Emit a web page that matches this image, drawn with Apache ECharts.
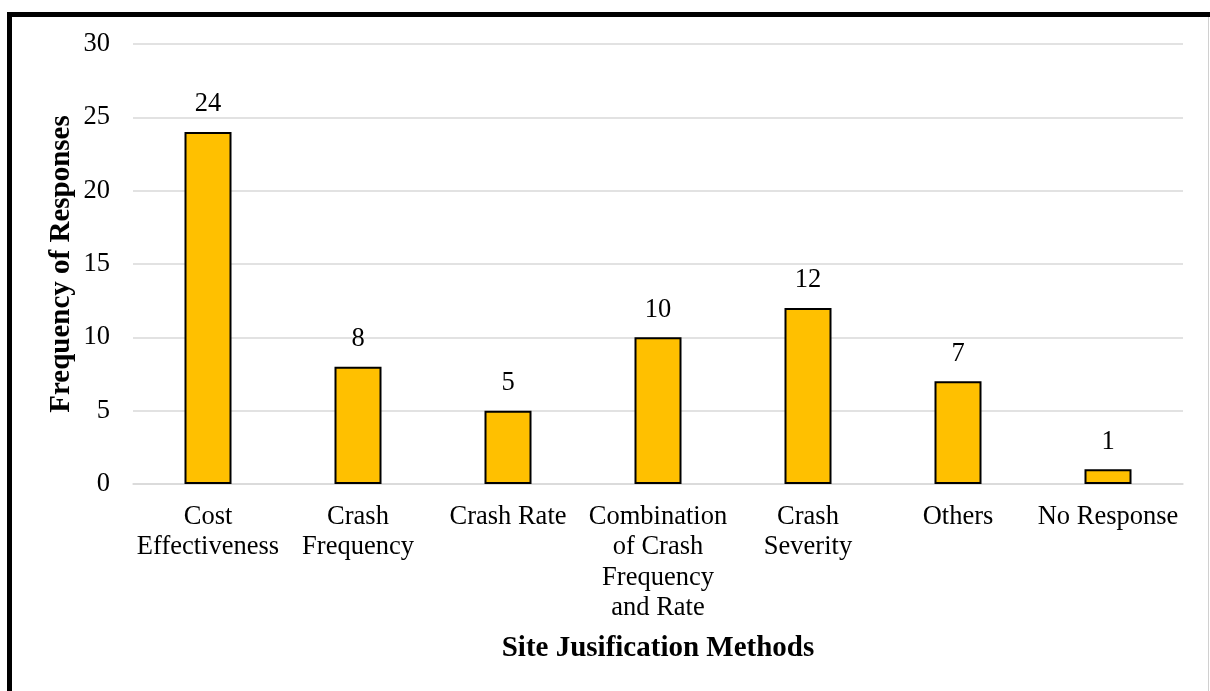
<!DOCTYPE html>
<html>
<head>
<meta charset="utf-8">
<script src="https://cdn.jsdelivr.net/npm/echarts@6/dist/echarts.min.js"></script>
<style>
html,body{margin:0;padding:0;background:#fff;}
#c{width:1210px;height:691px;}
</style>
</head>
<body>
<div id="c"></div>
<script>
const categories = ["Cost\nEffectiveness", "Crash\nFrequency", "Crash Rate", "Combination\nof Crash\nFrequency\nand Rate", "Crash\nSeverity", "Others", "No Response"];
const values = [24, 8, 5, 10, 12, 7, 1];
const yTicks = [0, 5, 10, 15, 20, 25, 30];

const chart = echarts.init(document.getElementById('c'), null, {renderer: 'canvas'});
const font = "'Liberation Serif', 'Times New Roman', serif";
chart.setOption({
  animation: false,
  backgroundColor: '#fff',
  textStyle: {fontFamily: font},
  grid: {left: 133, right: 27, top: 44, bottom: 207, containLabel: false},
  xAxis: {
    type: 'category',
    data: categories,
    name: 'Site Jusification Methods',
    nameLocation: 'middle',
    nameGap: 150,
    nameMoveOverlap: false,
    nameTextStyle: {fontFamily: font, fontSize: 29, fontWeight: 'bold', color: '#000'},
    axisLine: {show: true, lineStyle: {color: '#d9d9d9', width: 1.5}},
    axisTick: {show: false},
    axisLabel: {fontFamily: font, fontSize: 26.5, color: '#000', margin: 18, lineHeight: 30.3, interval: 0}
  },
  yAxis: {
    type: 'value',
    min: yTicks[0],
    max: yTicks[yTicks.length - 1],
    interval: 5,
    name: 'Frequency of Responses',
    nameLocation: 'middle',
    nameGap: 57,
    nameMoveOverlap: false,
    nameRotate: 90,
    nameTextStyle: {fontFamily: font, fontSize: 29, fontWeight: 'bold', color: '#000'},
    axisLine: {show: false},
    axisTick: {show: false},
    axisLabel: {fontFamily: font, fontSize: 26.5, color: '#000', margin: 23},
    splitLine: {lineStyle: {color: '#d9d9d9', width: 1.5}}
  },
  series: [{
    type: 'bar',
    data: values,
    barWidth: 47,
    itemStyle: {color: '#FFC000', borderColor: '#000', borderWidth: 2},
    label: {show: true, position: 'top', distance: 14, fontFamily: font, fontSize: 26.5, color: '#000'}
  }],
  graphic: [
    {type: 'line', shape: {x1: 9.5, y1: 14.5, x2: 1210, y2: 14.5}, style: {stroke: '#000', lineWidth: 5}},
    {type: 'line', shape: {x1: 9.5, y1: 12, x2: 9.5, y2: 691}, style: {stroke: '#000', lineWidth: 5}},
    {type: 'line', shape: {x1: 1208.5, y1: 17, x2: 1208.5, y2: 691}, style: {stroke: '#d0d0d0', lineWidth: 1}}
  ]
});
</script>
</body>
</html>
